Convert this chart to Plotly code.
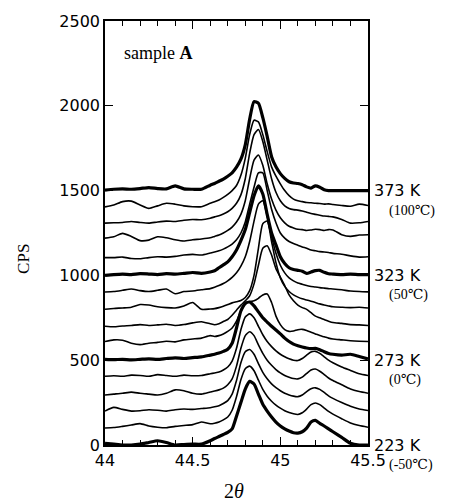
import plotly.graph_objects as go

# 2-theta sampling positions (degrees)
two_theta = [44.00, 44.05, 44.10, 44.15, 44.20, 44.25, 44.30, 44.35, 44.40, 44.45, 44.50, 44.55, 44.60,
             44.625, 44.65, 44.675, 44.70, 44.725, 44.75, 44.775, 44.80, 44.825, 44.85, 44.875, 44.90,
             44.925, 44.95, 44.975, 45.00, 45.025, 45.05, 45.075, 45.10, 45.125, 45.15, 45.175, 45.20,
             45.225, 45.25, 45.275, 45.30, 45.35, 45.40, 45.45, 45.50]

temps_K = [223, 233, 243, 253, 263, 273, 283, 293, 303, 313, 323, 333, 343, 353, 363, 373]
offsets = [0, 100, 200, 300, 400, 500, 600, 700, 800, 900, 1000, 1100, 1200, 1300, 1400, 1500]
thick_temps = [223, 273, 323, 373]

# intensity above each curve's offset (CPS)
i_223K = [10, 5, 0, 0, 5, 15, 25, 15, 0, 3, 5, 5, 25,
          38, 50, 62, 75, 95, 170, 250, 330, 375, 360, 300, 240, 200, 165, 135, 112, 95, 82, 72, 70, 78, 100, 135, 145, 128, 112, 95, 78,
          45, 10, 0, 0]
i_233K = [0, 3, 10, 18, 26, 12, 5, 2, 10, 15, 20, 36, 25,
          28, 35, 48, 65, 105, 185, 285, 350, 365, 338, 282, 228, 188, 158, 135, 117, 102, 92, 84, 80, 90, 112, 138, 148, 138, 118, 98, 82,
          55, 30, 15, 5]
i_243K = [0, 22, 10, 0, 2, 8, 5, 0, 8, 12, 10, 15, 20,
          25, 32, 45, 62, 100, 180, 285, 350, 363, 335, 280, 228, 190, 160, 138, 120, 105, 95, 88, 85, 95, 115, 132, 137, 128, 110, 90, 75,
          50, 28, 12, 3]
i_253K = [-5, 0, 5, 12, 5, 0, -5, 5, 25, 20, 5, 0, 12,
          18, 25, 35, 55, 90, 165, 270, 345, 368, 345, 290, 240, 200, 170, 145, 125, 110, 100, 92, 90, 100, 122, 142, 148, 135, 115, 95, 80,
          55, 30, 15, 5]
i_263K = [5, 8, 5, 12, 10, 5, 15, 10, 5, 12, 8, 10, 20,
          25, 30, 42, 60, 95, 170, 280, 355, 373, 350, 300, 250, 210, 180, 155, 135, 120, 108, 100, 98, 110, 130, 148, 152, 140, 120, 100, 85,
          60, 40, 20, 10]
i_273K = [5, 3, 5, 2, 5, 8, 5, 10, 14, 10, 15, 20, 30,
          35, 42, 52, 65, 100, 190, 290, 335, 343, 320, 285, 250, 225, 200, 178, 155, 130, 110, 95, 85, 78, 72, 68, 70, 62, 50, 40, 35,
          30, 35, 22, 8]
i_283K = [10, 20, 18, 0, -8, 0, 5, 12, 8, 20, 25, 30, 45,
          40, 45, 55, 70, 90, 130, 190, 235, 245, 250, 265, 285, 290, 240, 160, 110, 80, 70, 72, 80, 82, 75, 65, 55, 45, 38, 30, 25,
          20, 15, 12, 10]
i_293K = [0, -3, 2, 5, 10, 5, 8, 12, 5, 10, 20, 27, 15,
          9, 15, 28, 40, 65, 95, 125, 150, 180, 250, 360, 460, 475, 420, 340, 290, 240, 185, 150, 125, 110, 100, 80, 60, 50, 40, 30, 22,
          17, 10, 8, 5]
i_303K = [0, 5, 8, 12, 28, 25, 15, 10, 8, 20, 40, 0, 2,
          4, 10, 18, 28, 38, 45, 52, 70, 110, 200, 360, 505, 520, 400, 275, 185, 135, 105, 85, 72, 62, 55, 48, 40, 32, 25, 20, 15,
          12, 10, 12, 8]
i_313K = [2, 5, 12, 20, 10, 5, 12, 20, -8, 5, 8, 15, 22,
          30, 40, 52, 68, 88, 115, 155, 210, 300, 420, 520, 540, 450, 330, 230, 160, 115, 85, 68, 55, 48, 40, 35, 32, 28, 25, 22, 20,
          15, 8, 5, 3]
i_323K = [0, 5, 8, 5, 10, 8, 5, 10, 8, 12, 17, 12, 20,
          27, 45, 62, 80, 110, 150, 205, 270, 370, 470, 528, 480, 360, 250, 180, 110, 70, 45, 35, 30, 25, 12, 20, 28, 30, 18, 10, 8,
          5, 8, 5, 5]
i_333K = [5, 5, 8, 0, -2, 5, 10, 8, 12, 20, 24, 20, 32,
          38, 45, 55, 68, 85, 110, 150, 215, 320, 420, 505, 505, 400, 290, 210, 150, 120, 100, 88, 78, 68, 60, 50, 45, 40, 38, 35, 30,
          25, 15, 8, 10]
i_343K = [20, 28, 48, 30, 5, 8, 28, 22, 10, 3, 10, 15, 22,
          30, 38, 50, 65, 85, 115, 160, 240, 370, 480, 510, 450, 340, 250, 185, 140, 110, 90, 80, 72, 70, 65, 68, 72, 70, 65, 70, 68,
          40, 30, 38, 40]
i_353K = [8, 10, 12, 18, 12, 8, 15, 20, 18, 25, 30, 28, 37,
          45, 52, 62, 75, 95, 125, 175, 270, 420, 530, 560, 490, 380, 270, 190, 140, 110, 95, 88, 85, 80, 72, 65, 60, 55, 50, 48, 45,
          30, 8, 10, 18]
i_363K = [4, 15, 35, 38, 15, -5, 10, 25, 20, 10, 5, 5, 25,
          34, 45, 60, 78, 100, 130, 190, 290, 430, 515, 505, 430, 330, 240, 185, 140, 100, 70, 50, 40, 35, 30, 28, 25, 24, 20, 22, 18,
          12, 8, 20, 12]
i_373K = [3, 8, 10, 8, 12, 18, 12, 10, 28, 10, 8, 8, 32,
          42, 55, 68, 85, 105, 138, 185, 270, 420, 525, 515, 430, 320, 200, 140, 100, 72, 52, 45, 42, 35, 22, 15, 28, 20, 5, 0, 0,
          0, 0, 0, 0]

profiles = [i_223K, i_233K, i_243K, i_253K, i_263K, i_273K, i_283K, i_293K,
            i_303K, i_313K, i_323K, i_333K, i_343K, i_353K, i_363K, i_373K]

label_K = ["223 K", "273 K", "323 K", "373 K"]
label_C = ["(-50\u2103)", "(0\u2103)", "(50\u2103)", "(100\u2103)"]
label_y = [0, 500, 1000, 1500]

x_ticks = [44, 44.5, 45, 45.5]
x_ticktext = ["44", "44.5", "45", "45.5"]
y_ticks = [0, 500, 1000, 1500, 2000, 2500]

fig = go.Figure()
for T, off, prof in zip(temps_K, offsets, profiles):
    fig.add_trace(go.Scatter(
        x=two_theta, y=[off + v for v in prof], mode="lines",
        line=dict(color="black", width=3.2 if T in thick_temps else 1.6,
                  shape="spline", smoothing=0.6),
        showlegend=False, hoverinfo="skip"))

sans = "DejaVu Sans, Liberation Sans, Arial"
serif = "Liberation Serif, DejaVu Serif, Noto Sans CJK JP, serif"

annotations = []
for lk, lc, yv in zip(label_K, label_C, label_y):
    annotations.append(dict(x=45.5, y=yv, xref="x", yref="y", text=lk, showarrow=False,
                            xanchor="left", yanchor="middle", xshift=4,
                            font=dict(family=sans, size=16, color="black")))
    annotations.append(dict(x=45.5, y=yv, xref="x", yref="y", text=lc, showarrow=False,
                            xanchor="left", yanchor="middle", xshift=19, yshift=-20,
                            font=dict(family=serif, size=14, color="black")))

annotations.append(dict(x=44.097, y=2310, xref="x", yref="y", text="sample <b>A</b>",
                        showarrow=False, xanchor="left", yanchor="middle",
                        font=dict(family=serif, size=18, color="black")))
annotations.append(dict(x=0.49, y=-0.109, xref="paper", yref="paper", text="2<i>θ</i>",
                        showarrow=False, xanchor="center", yanchor="middle",
                        font=dict(family=serif, size=20, color="black")))
annotations.append(dict(x=-0.31, y=0.44, xref="paper", yref="paper", text="CPS",
                        showarrow=False, xanchor="center", yanchor="middle", textangle=-90,
                        font=dict(family=serif, size=17, color="black")))

fig.update_layout(
    width=451, height=503,
    margin=dict(l=105, r=83, t=15, b=58),
    plot_bgcolor="white", paper_bgcolor="white",
    annotations=annotations,
    xaxis=dict(range=[44, 45.5], tickvals=x_ticks, ticktext=x_ticktext,
               ticks="inside", ticklen=8, tickwidth=1.3, tickcolor="black",
               showline=True, linecolor="black", linewidth=1.5, mirror="allticks",
               showgrid=False, zeroline=False,
               tickfont=dict(family=sans, size=16, color="black"),
               minor=dict(ticks="inside", ticklen=5, tickwidth=1.2, tickcolor="black",
                          dtick=0.1, tick0=44, showgrid=False)),
    yaxis=dict(range=[0, 2500], tickvals=y_ticks,
               ticks="inside", ticklen=8, tickwidth=1.3, tickcolor="black",
               showline=True, linecolor="black", linewidth=1.5, mirror="allticks",
               showgrid=False, zeroline=False,
               tickfont=dict(family=sans, size=16, color="black")),
)

fig.write_html("out.html")
